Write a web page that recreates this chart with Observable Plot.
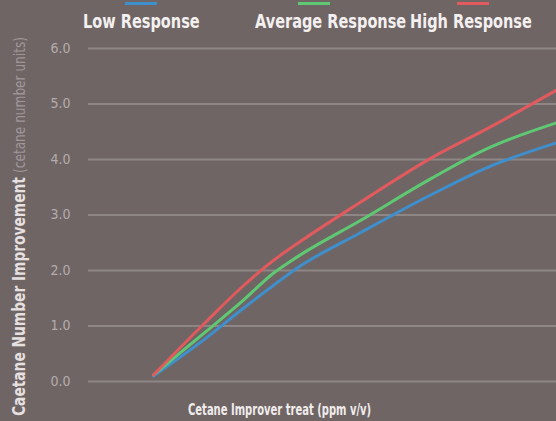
<!DOCTYPE html>
<html>
<head>
<meta charset="utf-8">
<script src="https://cdn.jsdelivr.net/npm/d3@7"></script>
<script src="https://cdn.jsdelivr.net/npm/@observablehq/plot@0.6"></script>
<style>
  html, body { margin: 0; padding: 0; }
  body { width: 556px; height: 421px; background: #6f6565; position: relative; overflow: hidden;
         font-family: "DejaVu Sans Condensed", sans-serif; }
  #legend { position: absolute; top: 0; left: 0; width: 556px; height: 40px; }
  .item { position: absolute; top: 10px; color: #f4f0f0; font-weight: bold; font-size: 19px; white-space: nowrap;
          transform-origin: 0 0; transform: scaleX(0.85); }
  .sw { position: absolute; top: 2px; height: 3px; width: 32px; }
  #chart { position: absolute; top: 30px; left: 0; }
  #ytitle { position: absolute; left: 9px; top: 416px; transform-origin: 0 0; transform: rotate(-90deg) scaleX(0.9);
            white-space: nowrap; color: #e6e0e0; }
  #ytitle .b { font-weight: bold; font-size: 17px; }
  #ytitle .l { font-size: 15px; color: #a0969a; }
  #xtitle { position: absolute; top: 401px; left: 188px; color: #f0ecec; font-weight: bold; font-size: 15px; white-space: nowrap;
            transform-origin: 0 0; transform: scaleX(0.74); }
</style>
</head>
<body>
<div id="legend"></div>
<div id="ytitle"><span class="b">Caetane Number Improvement</span> <span class="l">(cetane number units)</span></div>
<div id="chart"></div>
<div id="xtitle">Cetane Improver treat (ppm v/v)</div>
<script>
// Data
const treat = [139, 254, 325, 395, 447, 581, 731, 853, 1000];
const lowResponse = [0.1, 0.8, 1.28, 1.73, 2.05, 2.68, 3.36, 3.86, 4.3];
const averageResponse = [0.12, 0.92, 1.42, 1.95, 2.25, 2.9, 3.65, 4.2, 4.66];
const highResponse = [0.12, 1.1, 1.68, 2.18, 2.49, 3.23, 4.02, 4.56, 5.25];
const seriesNames = ["Low Response", "Average Response", "High Response"];
const seriesColors = ["#3f8fcc", "#5fc873", "#e05a5e"];
const yTicks = [0, 1, 2, 3, 4, 5, 6];

const series = [lowResponse, averageResponse, highResponse];
const rows = [];
series.forEach((vals, si) => vals.forEach((v, i) => rows.push({treat: treat[i], value: v, series: seriesNames[si]})));

// legend
const legend = document.getElementById("legend");
const labelX = [83, 255, 410];
const swX = [125, 298, 457];
seriesNames.forEach((n, i) => {
  const sw = document.createElement("div");
  sw.className = "sw"; sw.style.left = swX[i] + "px"; sw.style.background = seriesColors[i];
  legend.appendChild(sw);
  const t = document.createElement("div");
  t.className = "item"; t.style.left = labelX[i] + "px"; t.textContent = n;
  legend.appendChild(t);
});

const plot = Plot.plot({
  width: 556,
  height: 370,
  marginLeft: 88,
  marginRight: 0,
  marginTop: 18,
  marginBottom: 19,
  style: {background: "transparent", color: "#b4acac", fontSize: "14px", fontFamily: "'DejaVu Sans Condensed', sans-serif"},
  x: {domain: [0, 1000], axis: null},
  y: {domain: [0, 6], ticks: yTicks, tickFormat: d => d.toFixed(1), tickSize: 0, tickPadding: 18, label: null},
  color: {domain: seriesNames, range: seriesColors},
  marks: [
    Plot.ruleY(yTicks, {stroke: "#8e8585", strokeWidth: 2}),
    Plot.line(rows, {x: "treat", y: "value", z: "series", stroke: "series", strokeWidth: 3, curve: "monotone-x"})
  ]
});
document.getElementById("chart").appendChild(plot);
</script>
</body>
</html>
